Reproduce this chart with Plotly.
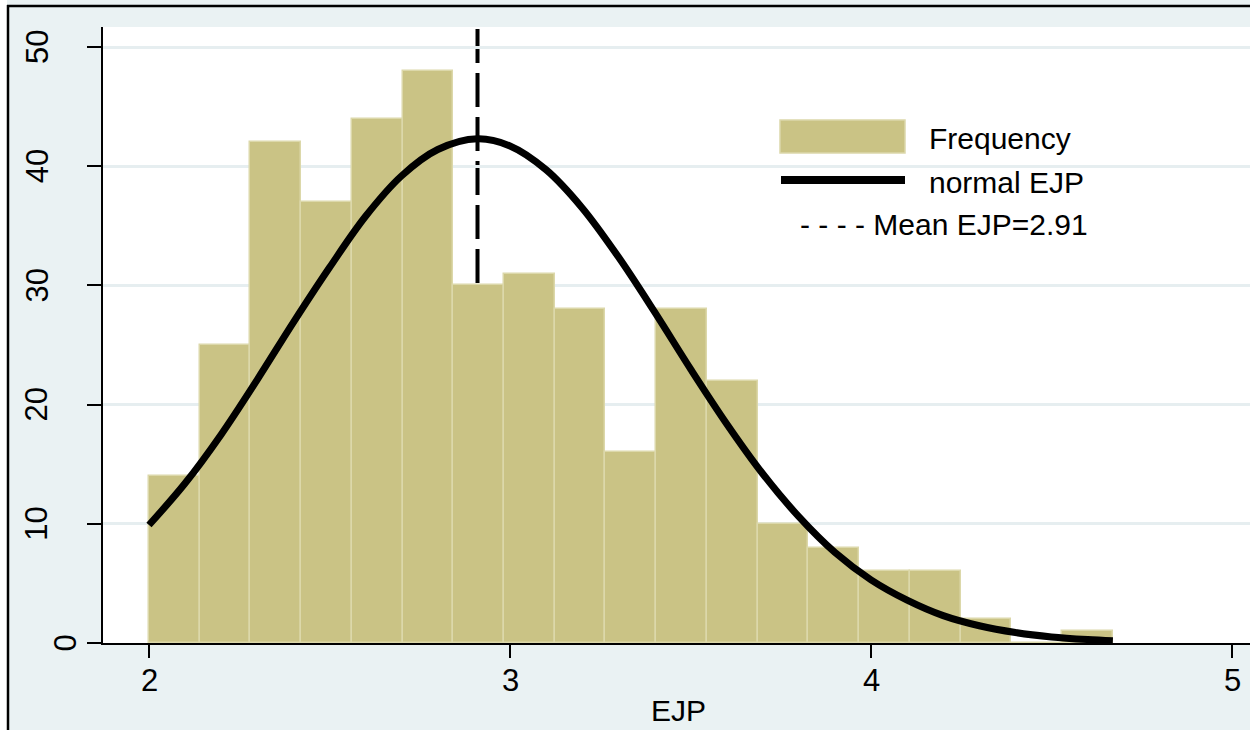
import plotly.graph_objects as go

# ---- data ----
bin_start = 2.0
bin_width = 0.1405
counts = [14, 25, 42, 37, 44, 48, 30, 31, 28, 16, 28, 22, 10, 8, 6, 6, 2, 0, 1]

curve_x = [2.0, 2.1, 2.2, 2.3, 2.4, 2.5, 2.6, 2.7, 2.8, 2.91, 3.0, 3.1, 3.2, 3.3,
           3.4, 3.5, 3.6, 3.7, 3.8, 3.9, 4.0, 4.1, 4.2, 4.3, 4.4, 4.5, 4.6, 4.67]
curve_y = [9.9, 13.4, 17.5, 22.1, 26.9, 31.5, 35.8, 39.2, 41.4, 42.3, 41.7, 39.7, 36.5, 32.4,
           27.8, 23.0, 18.4, 14.2, 10.6, 7.6, 5.3, 3.6, 2.3, 1.45, 0.88, 0.51, 0.29, 0.19]

mean_ejp = 2.91
x_ticks = [2, 3, 4, 5]
y_ticks = [0, 10, 20, 30, 40, 50]
x_title = "EJP"
legend_labels = ["Frequency", "normal EJP", "- - - - Mean EJP=2.91"]

# ---- styling ----
BAR_FILL = "#CAC385"
BAR_EDGE = "#DCD8AA"
BG = "#EAF2F3"
FONT = "Liberation Sans, Arial, sans-serif"

W, H = 1250, 730
ML, MR, MT, MB = 103, 0, 27, 87
PW = W - ML - MR
PH = H - MT - MB


def px(x):
    return (x - ML) / PW


def py(y):
    return (H - MB - y) / PH


bar_centers = [bin_start + bin_width * (i + 0.5) for i in range(len(counts))]

fig = go.Figure()
fig.add_trace(go.Bar(
    x=bar_centers, y=counts, width=bin_width,
    marker=dict(color=BAR_FILL, line=dict(color=BAR_EDGE, width=1.5)),
    name="Frequency", showlegend=False,
))
fig.add_trace(go.Scatter(
    x=curve_x, y=curve_y, mode="lines", line=dict(color="black", width=7, shape="spline"),
    name="normal EJP", showlegend=False,
))

shapes = []
# white strips outside the outer frame
shapes.append(dict(type="rect", xref="paper", yref="paper", x0=px(0), x1=px(W + 5),
                   y0=py(0), y1=py(-10), fillcolor="white", line=dict(width=0), layer="below"))
shapes.append(dict(type="rect", xref="paper", yref="paper", x0=px(-10), x1=px(7),
                   y0=py(H + 10), y1=py(-10), fillcolor="white", line=dict(width=0), layer="below"))
# frame lines
shapes.append(dict(type="line", xref="paper", yref="paper", x0=px(7), x1=px(W + 5),
                   y0=py(6), y1=py(6), line=dict(color="black", width=2.5)))
shapes.append(dict(type="line", xref="paper", yref="paper", x0=px(8), x1=px(8),
                   y0=py(5), y1=py(H + 10), line=dict(color="black", width=2.5)))
# mean line (drawn from the top down so the dash pattern starts at the top)
shapes.append(dict(type="line", xref="x", yref="paper", x0=mean_ejp, x1=mean_ejp,
                   y0=1 - 2 / PH, y1=0, line=dict(color="black", width=4, dash="34px,10px"),
                   layer="between"))
# legend samples
shapes.append(dict(type="rect", xref="paper", yref="paper", x0=px(780), x1=px(905),
                   y0=py(153), y1=py(120), fillcolor=BAR_FILL,
                   line=dict(color=BAR_EDGE, width=1.5)))
shapes.append(dict(type="line", xref="paper", yref="paper", x0=px(781), x1=px(905),
                   y0=py(180), y1=py(180), line=dict(color="black", width=8)))

annotations = [
    dict(text=legend_labels[0], x=px(927), y=py(138), xref="paper", yref="paper",
         xanchor="left", yanchor="middle", showarrow=False, font=dict(size=30, color="black")),
    dict(text=legend_labels[1], x=px(927), y=py(182), xref="paper", yref="paper",
         xanchor="left", yanchor="middle", showarrow=False, font=dict(size=30, color="black")),
    dict(text=legend_labels[2], x=px(798), y=py(225), xref="paper", yref="paper",
         xanchor="left", yanchor="middle", showarrow=False, font=dict(size=30, color="black")),
]

# tick labels (Stata-style placement)
for v in x_ticks:
    annotations.append(dict(text=str(v), x=v, y=py(680), xref="x", yref="paper",
                            xanchor="center", yanchor="middle", showarrow=False,
                            font=dict(size=31, color="black")))
for v in y_ticks:
    cx = 64.5 if len(str(v)) == 1 else 37
    annotations.append(dict(text=str(v), x=px(cx), y=v, xref="paper", yref="y",
                            xanchor="center", yanchor="middle", showarrow=False,
                            textangle=-90, font=dict(size=31, color="black")))
annotations.append(dict(text=x_title, x=px(678), y=py(710.5), xref="paper", yref="paper",
                        xanchor="center", yanchor="middle", showarrow=False,
                        font=dict(size=30, color="black")))

fig.update_layout(
    width=W, height=H,
    margin=dict(l=ML, r=MR, t=MT, b=MB, pad=0, autoexpand=False),
    paper_bgcolor=BG, plot_bgcolor="white",
    font=dict(family=FONT, color="black"),
    shapes=shapes, annotations=annotations,
    bargap=0, showlegend=False,
    xaxis=dict(
        automargin=False,
        range=[bin_start - 46 / 361, bin_start + (W - 149) / 361],
        tickvals=x_ticks, ticks="outside", ticklen=13, tickwidth=1.5, tickcolor="black",
        showline=True, linecolor="black", linewidth=1.5, showgrid=False, zeroline=False,
        showticklabels=False,
    ),
    yaxis=dict(
        automargin=False,
        range=[0, 51.68],
        tickvals=y_ticks, ticks="outside", ticklen=14, tickwidth=1.5, tickcolor="black",
        showline=True, linecolor="black", linewidth=1.5,
        showgrid=True, gridcolor="#E6EEF0", gridwidth=2.5, zeroline=False,
        showticklabels=False,
    ),
)

fig.write_html("out.html")
